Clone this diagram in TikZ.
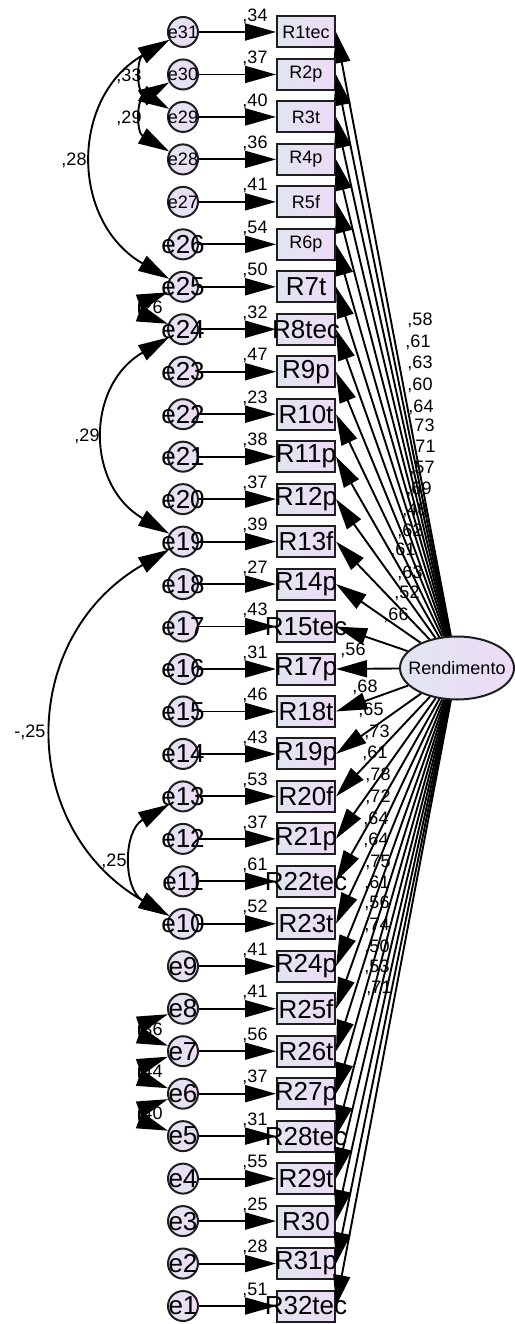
\documentclass[tikz,border=0pt]{standalone}
\usepackage{fontspec}
\setmainfont{Liberation Sans}
\usetikzlibrary{arrows.meta}
\usetikzlibrary{shapes.geometric}
\definecolor{mline}{rgb}{0.12, 0.12, 0.12}
\definecolor{mfilla}{rgb}{0.88, 0.90, 0.94}
\definecolor{mfillb}{rgb}{0.93, 0.86, 0.97}
\newcommand{\setfs}[1]{\fontsize{#1}{#1}\selectfont}
\newcommand{\nobox}[1]{\makebox[0pt]{#1}}
\tikzset{
  err/.style={circle, draw=mline, line width=2pt, minimum size=30pt, inner sep=0pt, left color=mfilla, right color=mfillb},
  obs/.style={rectangle, draw=mline, line width=2pt, minimum width=58pt, minimum height=31pt, inner sep=0pt, left color=mfilla, right color=mfillb},
  lat/.style={ellipse, draw=mline, line width=2pt, minimum width=114pt, minimum height=63pt, inner sep=0pt, left color=mfilla, right color=mfillb, font=\setfs{18}},
  coef/.style={inner sep=0pt, font=\setfs{18}},
  regarrow/.style={line width=1.9pt, -{Triangle[length=31pt,width=17pt]}},
  cov/.style={line width=1.9pt, {Triangle[length=31pt,width=17pt]}-{Triangle[length=31pt,width=17pt]}}
}

\begin{document}
\begin{tikzpicture}[x=1pt, y=1pt]
      \useasboundingbox (0, 0) rectangle (514, -1324);
      \node [lat] (rend) at (457, -668) {\nobox{Rendimento}};

      \foreach \lab/\en/\sm/\ld/\lx/\ly [count=\i] in {
          R1tec/31/34/58/420/320, R2p/30/37/61/418/342, R3t/29/40/63/420/363,
          R4p/28/36/60/420/385, R5f/27/41/64/421/407, R6p/26/54/73/422/426,
          R7t/25/50/71/423/447, R8tec/24/32/57/422/468, R9p/23/47/69/419/489,
          R10t/22/23/48/415/510, R11p/21/38/62/410/531, R12p/20/37/61/403/550,
          R13f/19/39/63/410/573, R14p/18/27/52/407/593, R15tec/17/43/66/396/615,
          R17p/16/31/56/353/650, R18t/15/46/68/365/687, R19p/14/43/65/371/710,
          R20f/13/53/73/377/732, R21p/12/37/61/375/753, R22tec/11/61/78/378/775,
          R23t/10/52/72/378/797, R24p/9/41/64/376/819, R25f/8/41/64/376/840,
          R26t/7/56/75/378/862, R27p/6/37/61/377/883, R28tec/5/31/56/377/903,
          R29t/4/55/74/377/925, R30/3/25/50/377/947, R31p/2/28/53/377/967,
          R32tec/1/51/71/379/988} {
        \pgfmathsetmacro\yy{-32-42.467*(\i-1)}
        \ifnum\i<7 \def\rf{\setfs{18}}\else\def\rf{\setfs{26}}\fi
        \ifnum\i<6 \def\ef{\setfs{18}}\else\def\ef{\setfs{26}}\fi
        \node [err, font=\ef] (e\en) at (183, \yy) {\nobox{e\en}};
        \node [obs, font=\rf] (\lab) at (306, \yy) {\nobox{\lab}};
        \node [coef] (s\en) at (255, \yy+16) {,\sm};
        \draw [regarrow] (e\en) -- (\lab);
        \draw [regarrow] (rend) -- (\lab.east);
        \node [coef] (l\en) at (\lx, -\ly) {,\ld};
      }

      \node [coef] (c1) at (74, -160) {,28};
      \node [coef] (c2) at (129, -76) {,33};
      \node [coef] (c3) at (129, -118) {,29};
      \node [coef] (c4) at (150, -308) {,26};
      \node [coef] (c5) at (87, -436) {,29};
      \node [coef] (c6) at (30, -732) {-,25};
      \node [coef] (c7) at (114, -861) {,25};
      \node [coef] (c8) at (150, -1030) {,36};
      \node [coef] (c9) at (150, -1072) {,44};
      \node [coef] (c10) at (150, -1114) {,40};

      \draw [cov] (e31) to [out=210, in=150, looseness=1.23] (e25);
      \draw [cov] (e31) to [out=210, in=150, looseness=1.4] (e29);
      \draw [cov] (e30) to [out=210, in=150, looseness=1.4] (e28);
      \draw [cov] (e25) to [out=200, in=160, looseness=2.5] (e24);
      \draw [cov] (e24) to [out=210, in=150, looseness=1.26] (e19);
      \draw [cov] (e19) to [out=210, in=150, looseness=1.23] (e10);
      \draw [cov] (e13) to [out=210, in=150, looseness=1.23] (e10);
      \draw [cov] (e8) to [out=200, in=160, looseness=2.5] (e7);
      \draw [cov] (e7) to [out=200, in=160, looseness=2.5] (e6);
      \draw [cov] (e6) to [out=200, in=160, looseness=2.5] (e5);
    \end{tikzpicture}
\end{document}
